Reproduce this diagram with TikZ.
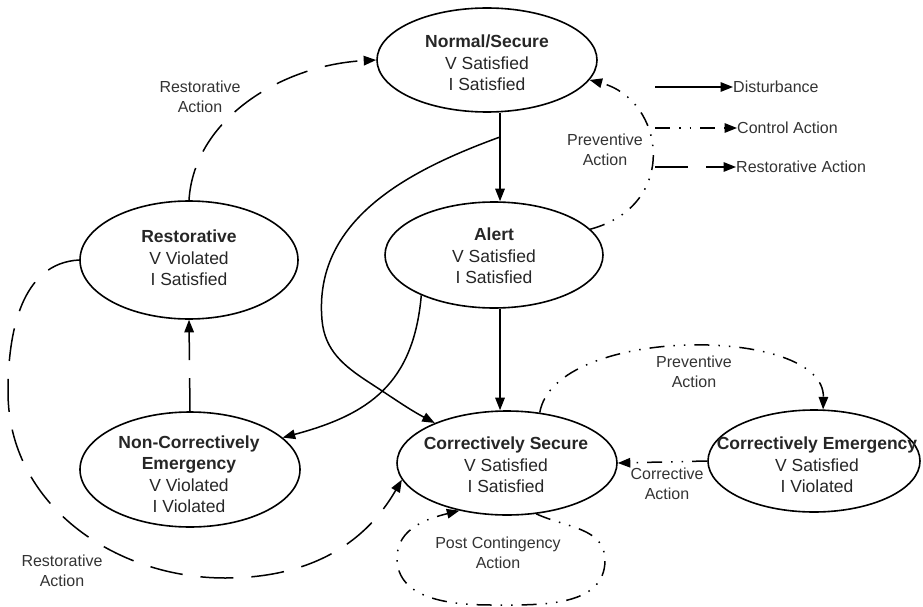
\documentclass[tikz,border=0pt]{standalone}
\usepackage{fontspec}
\setmainfont{Liberation Sans}
\usetikzlibrary{arrows.meta,shapes.geometric}
\begin{document}
\begin{tikzpicture}[x=1pt,y=-1pt,
  state/.style={draw, ellipse, line width=1.6pt, inner sep=0pt},
  statetext/.style={align=center, inner sep=0pt, font=\fontsize{17.5}{21.5}\selectfont, text=black!85},
  note/.style={align=center, inner sep=0pt, font=\fontsize{16}{20}\selectfont, text=black!80},
  flow/.style={line width=1.5pt, -{Triangle[length=12.5pt,width=9.5pt]}},
  restflow/.style={flow, dash pattern=on 33pt off 18pt},
  ctrlflow/.style={flow, dash pattern=on 15pt off 9pt on 1.5pt off 9pt on 1.5pt off 9pt},
]
\useasboundingbox (0,0) rectangle (923,607);

% operating states
\node[state, minimum width=220pt, minimum height=104pt] (norm)  at (487,60)    {};
\node[state, minimum width=218pt, minimum height=106pt] (alert) at (494,255)   {};
\node[state, minimum width=218pt, minimum height=118pt] (rest)  at (189,260)   {};
\node[state, minimum width=220pt, minimum height=115pt] (nce)   at (190,469.5) {};
\node[state, minimum width=220pt, minimum height=104pt] (cs)    at (507,463)   {};
\node[state, minimum width=212pt, minimum height=102pt] (ce)    at (814,461)   {};

\node[statetext] (norm-t)  at (487,63)  {\textbf{Normal/Secure}\\V Satisfied\\I Satisfied};
\node[statetext] (alert-t) at (494,256) {\textbf{Alert}\\V Satisfied\\I Satisfied};
\node[statetext] (rest-t)  at (189,258) {\textbf{Restorative}\\V Violated\\I Satisfied};
\node[statetext] (nce-t)   at (189,474) {\textbf{Non-Correctively}\\\textbf{Emergency}\\V Violated\\I Violated};
\node[statetext] (cs-t)    at (506,465) {\textbf{Correctively Secure}\\V Satisfied\\I Satisfied};
\node[statetext] (ce-t)    at (817,465) {\textbf{Correctively Emergency}\\V Satisfied\\I Violated};

% disturbances
\coordinate (vx) at (500,0);
\coordinate (split) at (500,137);
\draw[flow] (vx |- norm.south) -- (vx |- alert.north);
\draw[flow] (vx |- alert.south) -- (vx |- cs.north);
\draw[flow] (split) to[out=200,in=95] (322,320) to[out=-85,in=147] (370,383)
  to[out=-33,in=152] (cs.151);
\draw[flow] (alert.209) to[out=-95,in=15,looseness=1.15] (nce.19);

% restorative actions
\draw[restflow] (nce.north) -- (rest.south);
\draw[restflow] (rest.north) .. controls +(5,-81) and +(-95,5) .. (norm.west);
\draw[restflow] (rest.west) to[out=183,in=90] (8,392) to[out=-90,in=180] (225,578)
  to[out=0,in=-120] (cs.189);

% control actions
\draw[ctrlflow] (alert.15) .. controls (680,205) and (665,100) .. (norm.-11);
\draw[ctrlflow] (cs.57) .. controls (555,325) and (825,325) .. (ce.80);
\draw[ctrlflow] (ce.west) -- (cs.east);
\draw[ctrlflow] (cs.-60) to[out=-25,in=90] (605,560) to[out=-90,in=0] (492,605)
  to[out=180,in=-90] (397,558) to[out=90,in=194] (cs.225);

% action labels
\node[note] (ra1) at (200,97)  {Restorative\\Action};
\node[note] (pa1) at (605,150) {Preventive\\Action};
\node[note] (pa2) at (694,372) {Preventive\\Action};
\node[note] (ca)  at (667,484) {Corrective\\Action};
\node[note] (pc)  at (498,553) {Post Contingency\\Action};
\node[note] (ra2) at (62,571)  {Restorative\\Action};

% key
\coordinate (key-a) at (655,87);
\coordinate (key-b) at (655,128);
\coordinate (key-c) at (655,167);
\node[note, anchor=west] (key-dist) at (733,87)  {Disturbance};
\node[note, anchor=west] (key-ctrl) at (737,128) {Control Action};
\node[note, anchor=west] (key-rest) at (736,167) {Restorative Action};
\draw[flow] (key-a) -- (key-dist.west);
\draw[ctrlflow] (key-b) -- (key-ctrl.west);
\draw[restflow] (key-c) -- (key-rest.west);
\end{tikzpicture}
\end{document}
